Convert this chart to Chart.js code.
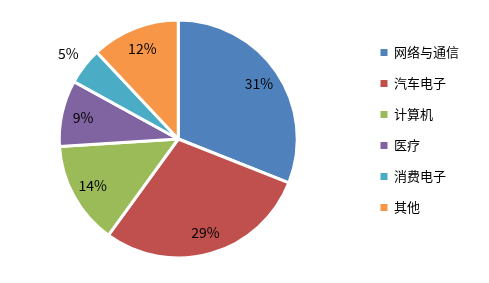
<!DOCTYPE html>
<html>
<head>
<meta charset="utf-8">
<script src="https://cdn.jsdelivr.net/npm/chart.js@4"></script>
<style>
  html, body { margin: 0; padding: 0; background: #fff; overflow: hidden; }
  #wrap { width: 495px; height: 283px; margin-left: -6px; }
</style>
</head>
<body>
<div id="wrap"><canvas id="chart_pie"></canvas></div>
<script>
var labels = ['网络与通信', '汽车电子', '计算机', '医疗', '消费电子', '其他']
var values = [31, 29, 14, 9, 5, 12]
var cores = ['#4f81bd', '#c0504d', '#9bbb59', '#8064a2', '#4bacc6', '#f79646']

// labels drawn on each slice, small slices go outside
var sliceLabels = {
    id: 'sliceLabels',
    afterDatasetsDraw: function(chart) {
        var ctx = chart.ctx;
        var meta = chart.getDatasetMeta(0);
        ctx.save();
        ctx.font = '14px "Noto Sans CJK SC", "Noto Sans", sans-serif';
        ctx.fillStyle = '#000';
        ctx.textAlign = 'center';
        ctx.textBaseline = 'middle';
        meta.data.forEach(function(arc, i) {
            var p = arc.getProps(['x', 'y', 'startAngle', 'endAngle', 'outerRadius']);
            var mid = (p.startAngle + p.endAngle) / 2;
            var k = values[i] < 7 ? 1.17 : 0.82;
            var x = p.x + Math.cos(mid) * p.outerRadius * k;
            var y = p.y + Math.sin(mid) * p.outerRadius * k;
            ctx.fillText(values[i] + '%', x, y);
        });
        ctx.restore();
    }
};

var ctx = document.getElementById('chart_pie');

var chartPie = new Chart(ctx, {
    type: 'pie',
    data: {
        labels: labels,
        datasets: [{
            data: values,
            backgroundColor: cores,
            borderColor: '#fff',
            borderWidth: 3,
            radius: 119
        }]
    },
    plugins: [sliceLabels],
    options: {
        responsive: true,
        maintainAspectRatio: false,
        animation: false,
        layout: {
            padding: { top: 28, bottom: 33, left: 0, right: 20 }
        },
        plugins: {
            tooltip: { enabled: false },
            legend: {
                position: 'right',
                align: 'start',
                labels: {
                    boxWidth: 7,
                    boxHeight: 7,
                    padding: 18,
                    color: '#000',
                    font: { size: 13, family: '"Noto Sans CJK SC", sans-serif' },
                    generateLabels: function(chart) {
                        var items = Chart.overrides.pie.plugins.legend.labels.generateLabels(chart);
                        items.forEach(function(it) { it.lineWidth = 0; });
                        return items;
                    }
                }
            }
        }
    }
});
</script>
</body>
</html>
